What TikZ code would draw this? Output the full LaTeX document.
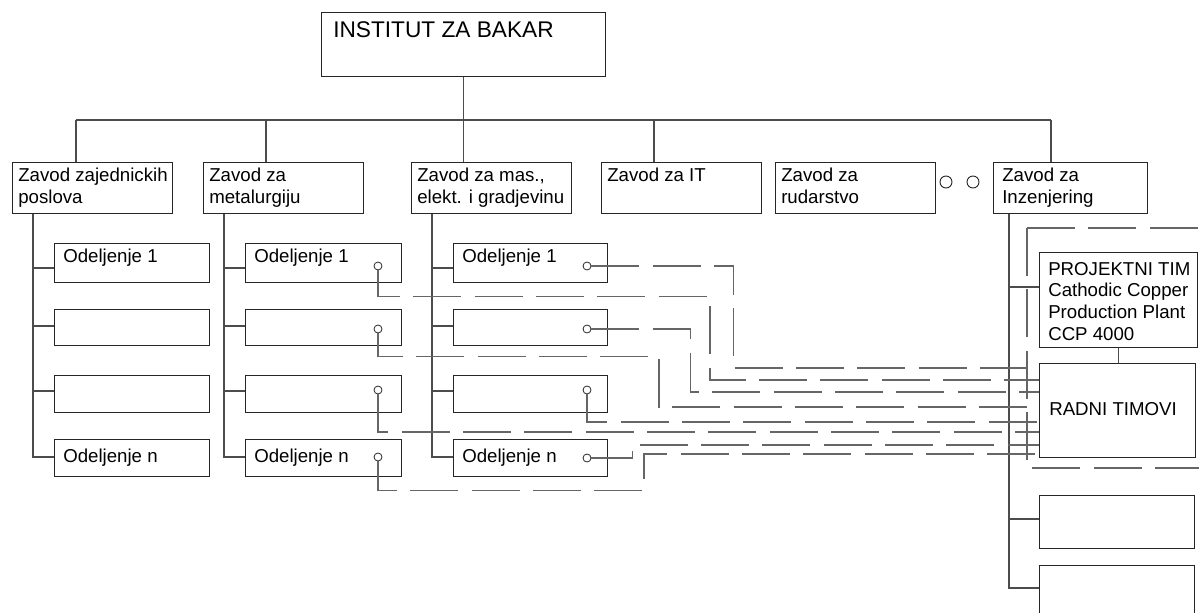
\documentclass[tikz,border=0pt]{standalone}
\usepackage{fontspec}
\setmainfont{Liberation Sans}
\usetikzlibrary{calc}
\begin{document}
\begin{tikzpicture}[x=0.75pt,y=-0.75pt,
 bx/.style={draw=black!85, line width=0.8pt, rectangle, inner sep=0pt, anchor=north west},
 ln/.style={draw=black!70, line width=0.8pt},
 dsh/.style={draw=black!60, line width=0.8pt, dash pattern=on 36pt off 10pt},
 tx/.style={anchor=north west, inner sep=0pt, align=left, font=\fontsize{14pt}{16.2pt}\selectfont},
 bigtx/.style={tx, font=\fontsize{17pt}{20pt}\selectfont},
 hole/.style={circle, draw=black!85, line width=0.6pt, inner sep=0pt, minimum size=6pt},
 ring/.style={circle, draw=black!85, line width=0.7pt, inner sep=0pt, minimum size=9pt},
]
\useasboundingbox (0,0) rectangle (1199,613);

% ---------- top ----------
\node[bx, minimum width=213pt, minimum height=48pt] (top) at (321,12) {};
\node[bigtx] (ttop) at ($(top.north west)+(12,9)$) {INSTITUT ZA BAKAR};

% ---------- level 2 ----------
\node[bx, minimum width=120pt, minimum height=38.25pt] (z1) at (12,162) {};
\node[bx, minimum width=120pt, minimum height=38.25pt] (z2) at (203,162) {};
\node[bx, minimum width=120pt, minimum height=38.25pt] (z3) at (411,162) {};
\node[bx, minimum width=120pt, minimum height=38.25pt] (z4) at (601,162) {};
\node[bx, minimum width=120pt, minimum height=38.25pt] (z5) at (775,162) {};
\node[bx, minimum width=115.5pt, minimum height=38.25pt] (z6) at (993,162) {};
\node[tx] (tz1) at ($(z1.north west)+(6,6)$) {Zavod zajednickih\\poslova};
\node[tx] (tz2) at ($(z2.north west)+(6,6)$) {Zavod za\\metalurgiju};
\node[tx] (tz3) at ($(z3.north west)+(6,6)$) {Zavod za mas.,\\elekt. i gradjevinu};
\node[tx] (tz4) at ($(z4.north west)+(6,6)$) {Zavod za IT};
\node[tx] (tz5) at ($(z5.north west)+(6,6)$) {Zavod za\\rudarstvo};
\node[tx] (tz6) at ($(z6.north west)+(9,6)$) {Zavod za\\Inzenjering};
\node[ring] (o1) at (946,182) {};
\node[ring] (o2) at (973,182) {};

% bus
\coordinate (busL) at ($(z1.north west)+(64,-42)$);
\coordinate (busR) at ($(z6.north west)+(58,-42)$);
\coordinate (d1) at ($(z1.north west)+(64,0)$);
\coordinate (d2) at ($(z2.north west)+(63,0)$);
\coordinate (d4) at ($(z4.north west)+(53,0)$);
\coordinate (d6) at ($(z6.north west)+(58,0)$);
\draw[ln] (top.south) -- (top.south |- z3.north);
\draw[ln] (busL) -- (busR);
\draw[ln] (d1) -- (d1 |- busL);
\draw[ln] (d2) -- (d2 |- busL);
\draw[ln] (d4) -- (d4 |- busL);
\draw[ln] (d6) -- (d6 |- busL);

% ---------- level 3 ----------
\foreach \c/\z/\x/\w in {a/z1/54/116.25pt, b/z2/245/117pt, c/z3/453/115.5pt} {
  \node[bx, minimum width=\w, minimum height=29.25pt] (\c1) at (\x,243) {};
  \node[bx, minimum width=\w, minimum height=27pt]    (\c2) at (\x,309) {};
  \node[bx, minimum width=\w, minimum height=27.75pt] (\c3) at (\x,375) {};
  \node[bx, minimum width=\w, minimum height=27.75pt] (\c4) at (\x,439) {};
  \node[tx] (t\c1) at ($(\c1.north west)+(9,6)$) {Odeljenje 1};
  \node[tx] (t\c4) at ($(\c4.north west)+(9,9.5)$) {Odeljenje n};
  \coordinate (s\c) at ($(\z.south west)+(21,0)$);
  \coordinate (p\c1) at ($(\c1.north west)+(0,25)$);
  \coordinate (p\c2) at ($(\c2.north west)+(0,17)$);
  \coordinate (p\c3) at ($(\c3.north west)+(0,16)$);
  \coordinate (p\c4) at ($(\c4.north west)+(0,18)$);
  \draw[ln] (s\c) |- (p\c4);
  \draw[ln] (s\c |- p\c1) -- (p\c1);
  \draw[ln] (s\c |- p\c2) -- (p\c2);
  \draw[ln] (s\c |- p\c3) -- (p\c3);
}

% holes
\node[hole] (hb1) at (378,266) {};
\node[hole] (hb2) at (378,329) {};
\node[hole] (hb3) at (378,390) {};
\node[hole] (hb4) at (378,457) {};
\node[hole] (hc1) at (587,266) {};
\node[hole] (hc2) at (587,329) {};
\node[hole] (hc3) at (587,390) {};
\node[hole] (hc4) at (587,458) {};

% ---------- right column ----------
\node[bx, minimum width=118.5pt, minimum height=71.25pt] (proj) at (1039,252) {};
\node[bx, minimum width=117pt, minimum height=70.5pt] (radni) at (1039,363) {};
\node[bx, minimum width=116.25pt, minimum height=39.75pt] (e1) at (1039,495) {};
\node[bx, minimum width=116.25pt, minimum height=90pt] (e2) at (1039,565) {};
\node[tx] (tproj) at ($(proj.north west)+(9,10)$) {PROJEKTNI TIM\\Cathodic Copper\\Production Plant\\CCP 4000};
\node[tx] (tradni) at ($(radni.north west)+(10,39)$) {RADNI TIMOVI};

\coordinate (s6) at ($(z6.south west)+(16,0)$);
\coordinate (pp) at ($(proj.north west)+(0,35)$);
\coordinate (pe1) at ($(e1.north west)+(0,24)$);
\coordinate (pe2) at ($(e2.north west)+(0,23)$);
\draw[ln] (s6) |- (pe2);
\draw[ln] (s6 |- pp) -- (pp);
\draw[ln] (s6 |- pe1) -- (pe1);
\draw[ln] (proj.south) -- (proj.south |- radni.north);

% dashed bracket round the project team
\coordinate (brA) at (1205,228);
\coordinate (brB) at (1027,228);
\coordinate (brC) at (1027,468);
\coordinate (brD) at (1205,468);
\draw[dsh] (brB) -- (brA);
\draw[dsh] (brB) -- (brC) -- (brD);

% ---------- dashed links to RADNI TIMOVI ----------
\draw[dsh] (hc1.east) -- ++(142,0) |- ($(radni.north west)+(0,5)$);
\draw[dsh] (hb1.south) -- ++(0,26) -- ++(332,0) |- ($(radni.north west)+(0,17)$);
\draw[dsh] (hc2.east) -- ++(99,0) |- ($(radni.north west)+(0,29)$);
\draw[dsh] (hb2.south) -- ++(0,23) -- ++(281,0) |- ($(radni.north west)+(0,44)$);
\draw[dsh] (hc3.south) |- ($(radni.north west)+(0,59)$);
\draw[dsh] (hb3.south) |- ($(radni.north west)+(0,69)$);
\draw[dsh] (hc4.east) -- ++(41,0) |- ($(radni.north west)+(0,82)$);
\draw[dsh] (hb4.south) -- ++(0,29) -- ++(266,0) |- ($(radni.north west)+(0,91)$);
\end{tikzpicture}
\end{document}
